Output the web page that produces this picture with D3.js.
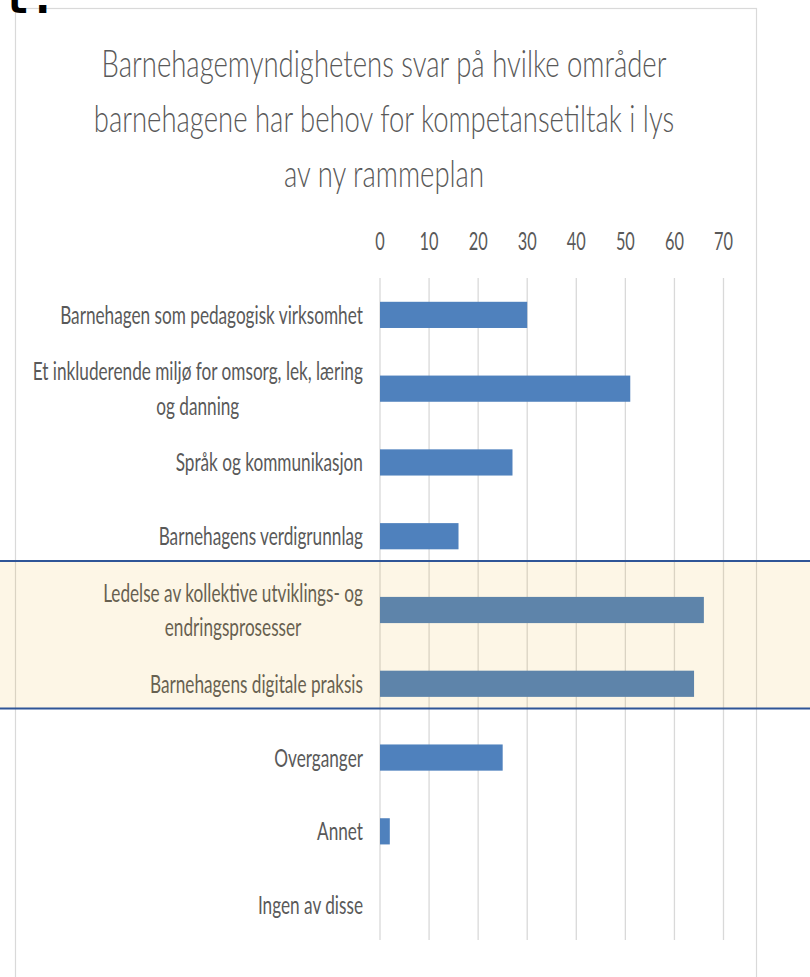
<!DOCTYPE html>
<html>
<head>
<meta charset="utf-8">
<script src="https://cdn.jsdelivr.net/npm/d3@7"></script>
<style>
  html, body { margin: 0; padding: 0; background: #ffffff; }
  svg { display: block; }
</style>
</head>
<body>
<svg id="chart" width="810" height="977"></svg>
<script>
// ---------- DATA ----------
const titleLines = [
  "Barnehagemyndighetens svar på hvilke områder",
  "barnehagene har behov for kompetansetiltak i lys",
  "av ny rammeplan"
];
const categories = [
  "Barnehagen som pedagogisk virksomhet",
  "Et inkluderende miljø for omsorg, lek, læring og danning",
  "Språk og kommunikasjon",
  "Barnehagens verdigrunnlag",
  "Ledelse av kollektive utviklings- og endringsprosesser",
  "Barnehagens digitale praksis",
  "Overganger",
  "Annet",
  "Ingen av disse"
];
const values = [30, 51, 27, 16, 66, 64, 25, 2, 0];
const tickValues = [0, 10, 20, 30, 40, 50, 60, 70];
const highlighted = [
  "Ledelse av kollektive utviklings- og endringsprosesser",
  "Barnehagens digitale praksis"
];
const cornerText = "t:";

// ---------- LAYOUT ----------
const W = 810, H = 977;
const fontFamily = "Lato, 'Open Sans', 'Liberation Sans', sans-serif";
const textColor = "#595959";
const barColor = "#4f81bd";
const gridColor = "#d9d9d9";

const svg = d3.select("#chart");

const x = d3.scaleLinear().domain([0, 70]).range([380, 723.5]);
const y = d3.scaleBand().domain(categories).range([278, 942]).padding(0);
const barH = y.bandwidth() * 0.355;

// chart frame
svg.append("rect")
  .attr("x", 15.5).attr("y", 8.5)
  .attr("width", 741).attr("height", 1000)
  .attr("fill", "#ffffff")
  .attr("stroke", "#d9d9d9").attr("stroke-width", 1.2);

// corner text (cropped at the top edge, as in the source screenshot)
svg.append("text")
  .attr("x", 3).attr("y", 13)
  .attr("font-family", "'DejaVu Sans Mono', monospace")
  .attr("font-weight", "bold")
  .attr("font-size", 44)
  .attr("fill", "#000")
  .text(cornerText);

// helper: squeezed text
function squeezed(parent, str, cx, baseline, size, k, anchor, weight) {
  return parent.append("text")
    .attr("transform", `translate(${cx},${baseline}) scale(${k},1)`)
    .attr("text-anchor", anchor)
    .attr("font-family", fontFamily)
    .attr("font-size", size)
    .attr("font-weight", weight || 400)
    .attr("fill", textColor)
    .text(str);
}
function naturalWidth(str, size, weight) {
  const t = svg.append("text")
    .attr("font-family", fontFamily).attr("font-size", size)
    .attr("font-weight", weight || 400).text(str);
  const w = t.node().getComputedTextLength();
  t.remove();
  return w;
}

// ---------- TITLE ----------
const titleSize = 38, titleWeight = 300;
const titleK = 565 / naturalWidth(titleLines[0], titleSize, titleWeight);
const titleG = svg.append("g");
titleLines.forEach((line, i) => {
  squeezed(titleG, line, 384, 77 + i * 55, titleSize, titleK, "middle", titleWeight);
});

// ---------- GRID ----------
const gridG = svg.append("g");
gridG.selectAll("line").data(tickValues).join("line")
  .attr("x1", d => x(d)).attr("x2", d => x(d))
  .attr("y1", 278).attr("y2", 940)
  .attr("stroke", gridColor).attr("stroke-width", 1.3);

// ---------- TICK LABELS ----------
const labelSize = 25;
const labelK = 303 / naturalWidth(categories[0], labelSize);
const tickG = svg.append("g");
tickValues.forEach(v => {
  squeezed(tickG, String(v), x(v), 250, labelSize, labelK * 0.95, "middle");
});

// ---------- BARS ----------
const barG = svg.append("g");
barG.selectAll("rect").data(categories).join("rect")
  .attr("x", x(0))
  .attr("y", d => y(d) + (y.bandwidth() - barH) / 2)
  .attr("width", (d, i) => x(values[i]) - x(0))
  .attr("height", barH)
  .attr("fill", barColor);

// ---------- CATEGORY LABELS ----------
const labelRight = 363, maxLabelW = 340, lineGap = 34.5, capH = labelSize * 0.72;
const labelG = svg.append("g");
categories.forEach(cat => {
  const words = cat.split(" ");
  const lines = [];
  let cur = "";
  words.forEach(w => {
    const test = cur ? cur + " " + w : w;
    if (cur && naturalWidth(test, labelSize) * labelK > maxLabelW) {
      lines.push(cur); cur = w;
    } else cur = test;
  });
  if (cur) lines.push(cur);
  const widths = lines.map(l => naturalWidth(l, labelSize) * labelK);
  const blockW = d3.max(widths);
  const cx = labelRight - blockW / 2;
  const center = y(cat) + y.bandwidth() / 2;
  lines.forEach((l, i) => {
    const mid = center + (i - (lines.length - 1) / 2) * lineGap;
    squeezed(labelG, l, cx, mid + capH / 2, labelSize, labelK, "middle");
  });
});

// ---------- HIGHLIGHT BAND ----------
const bandTop = 561, bandBottom = 708.5;
svg.append("rect")
  .attr("x", 0).attr("y", bandTop)
  .attr("width", W).attr("height", bandBottom - bandTop)
  .attr("fill", "rgb(235,166,10)").attr("fill-opacity", 0.1);
[bandTop, bandBottom].forEach(yy => {
  svg.append("line")
    .attr("x1", 0).attr("x2", W)
    .attr("y1", yy).attr("y2", yy)
    .attr("stroke", "#2f5597").attr("stroke-width", 2.2);
});
</script>
</body>
</html>
